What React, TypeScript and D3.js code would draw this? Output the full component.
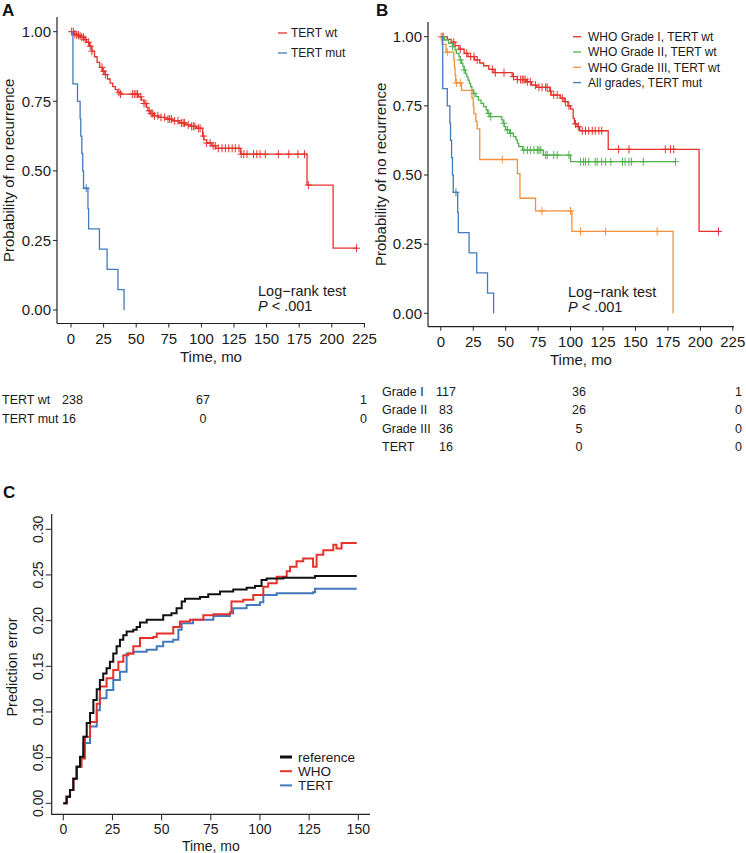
import React from "react";
import * as d3 from "d3";

const FONT = "'Liberation Sans', Arial, Helvetica, sans-serif";

// ---------- Panel A / B data (Kaplan-Meier step levels) ----------
const kmTicks = [0, 25, 50, 75, 100, 125, 150, 175, 200, 225];
const survTicks = [0, 0.25, 0.5, 0.75, 1.0];

const tertWtTimes = [0, 2, 4, 6, 8, 10, 12, 14, 16, 18, 20, 22, 24, 26, 28, 30, 32, 34, 36, 38, 52, 54, 56, 58, 59, 61, 63, 67, 72, 78, 83, 88, 92, 96, 101, 102, 104, 108, 111, 130, 181, 201];
const tertWtSurv = [1, 0.992, 0.988, 0.984, 0.98, 0.972, 0.962, 0.948, 0.93, 0.91, 0.89, 0.872, 0.858, 0.846, 0.83, 0.815, 0.803, 0.792, 0.782, 0.776, 0.766, 0.754, 0.742, 0.728, 0.716, 0.706, 0.698, 0.692, 0.686, 0.68, 0.672, 0.665, 0.66, 0.653, 0.625, 0.611, 0.6, 0.59, 0.581, 0.56, 0.449, 0.222];
const tertWtEnd = 219;
const tertWtCensor = [0.5, 1.8, 3, 4.4, 5.7, 7, 8.3, 9.6, 10.9, 13.5, 14.8, 16, 23.8, 25, 26.4, 36.8, 38, 47, 48.5, 49.8, 51, 53.6, 56, 57.5, 60, 61.4, 62.7, 64, 66.6, 69, 71.8, 74.4, 75.7, 77, 79.5, 82, 84.6, 86, 87, 89.9, 92.5, 93.8, 95, 97.7, 99, 101.5, 104, 106.7, 109, 110.6, 113, 115.8, 118.4, 121, 123.6, 126, 128.8, 130.5, 132.5, 135, 140, 142.5, 145, 149, 159, 167, 174, 179, 182, 219];

const tertMutTimes = [0, 1.5, 5, 7, 7.5, 8.3, 9, 9.6, 13, 13.5, 21.8, 27.7, 36, 40.7];
const tertMutSurv = [1, 0.8125, 0.75, 0.6875, 0.625, 0.5625, 0.5, 0.4375, 0.3646, 0.2917, 0.2188, 0.1458, 0.0729, 0];
const tertMutEnd = 40.7;
const tertMutCensor = [11.7];

const grade1Times = [0, 5, 8, 11, 14, 18, 21, 26, 30, 33, 37, 41, 55, 59, 66, 70, 74, 84, 85, 92, 95, 98, 100, 102, 103, 105, 107, 129, 199];
const grade1Surv = [1, 0.99, 0.98, 0.968, 0.955, 0.94, 0.928, 0.916, 0.905, 0.895, 0.882, 0.87, 0.856, 0.845, 0.837, 0.825, 0.817, 0.803, 0.789, 0.778, 0.765, 0.75, 0.738, 0.705, 0.685, 0.675, 0.66, 0.593, 0.296];
const grade1End = 215;
const grade1Censor = [1, 10, 15, 20, 23, 25.6, 28, 39.7, 42, 48.7, 56, 59, 61.5, 62.8, 64, 65, 66.7, 69, 73, 75.6, 78, 80.8, 82, 84.6, 87, 89.7, 93.6, 96, 98.7, 103.8, 106, 109, 111.5, 114, 116.7, 119, 121.8, 124, 137, 145, 173, 177, 179.5, 214];

const grade2Times = [0, 3, 6, 9, 11, 12, 14, 15, 16, 17, 18, 19, 20, 21, 22, 23, 24, 25, 27, 29, 31, 33, 35, 36, 38, 47, 48, 49, 50, 53, 56, 58, 59, 60, 63, 79, 100];
const grade2Surv = [1, 0.988, 0.976, 0.964, 0.952, 0.94, 0.928, 0.916, 0.904, 0.892, 0.88, 0.867, 0.855, 0.843, 0.831, 0.819, 0.807, 0.795, 0.783, 0.771, 0.759, 0.747, 0.735, 0.723, 0.711, 0.699, 0.687, 0.675, 0.663, 0.651, 0.639, 0.627, 0.615, 0.603, 0.59, 0.572, 0.548];
const grade2End = 181;
const grade2Censor = [2, 9, 15, 18, 25.6, 37, 38.5, 48.7, 51.3, 53.8, 64, 66.7, 69, 71.8, 74.4, 75.6, 77, 80.8, 82, 87, 89.7, 98.7, 107.7, 110, 111.5, 114, 119, 120.5, 124, 127, 131, 140, 142, 145, 147, 156, 180.8];

const grade3Times = [0, 1, 4, 10, 10.5, 11, 11.5, 16, 24, 25, 25.5, 27, 28, 30, 59, 61, 73, 101, 179];
const grade3Surv = [1, 0.972, 0.944, 0.917, 0.889, 0.861, 0.833, 0.806, 0.778, 0.75, 0.722, 0.694, 0.667, 0.556, 0.505, 0.416, 0.37, 0.296, 0];
const grade3End = 179;
const grade3Censor = [0.3, 5, 12, 15, 47.4, 78, 100, 107.7, 127, 166.7];

// ---------- Risk tables ----------
const riskA_labels = ["TERT wt", "TERT mut"];
const riskA_n0 = ["238", "16"];
const riskA_n100 = ["67", "0"];
const riskA_n200 = ["1", "0"];
const riskB_labels = ["Grade I", "Grade II", "Grade III", "TERT"];
const riskB_n0 = ["117", "83", "36", "16"];
const riskB_n100 = ["36", "26", "5", "0"];
const riskB_n200 = ["1", "0", "0", "0"];

// ---------- Panel C data (prediction error curves) ----------
const peTicksX = [0, 25, 50, 75, 100, 125, 150];
const peTicksY = [0, 0.05, 0.1, 0.15, 0.2, 0.25, 0.3];

const refTimes = [0, 1.7, 3.4, 5.1, 6.8, 8.5, 10.2, 11.9, 13.6, 15.3, 17, 18.6, 20.3, 22, 23.7, 25.4, 27.1, 28.8, 30.5, 32.2, 35.6, 37.3, 39, 42.4, 50.8, 55, 57.6, 60.2, 61.9, 69.5, 73.7, 79.7, 86.4, 93.2, 97.5, 100.8, 103.4, 111.9, 128, 149.2];
const refErr = [0, 0.0073, 0.0146, 0.027, 0.04, 0.051, 0.073, 0.088, 0.099, 0.113, 0.125, 0.135, 0.142, 0.148, 0.155, 0.164, 0.172, 0.179, 0.184, 0.188, 0.19, 0.193, 0.198, 0.201, 0.206, 0.208, 0.2135, 0.221, 0.224, 0.226, 0.229, 0.232, 0.234, 0.236, 0.238, 0.2445, 0.246, 0.247, 0.249, 0.249];

const whoTimes = [0, 1.7, 3.4, 5.1, 6.8, 9.3, 11, 13.6, 17, 18.6, 22, 25.4, 28, 30.5, 33, 35.6, 39, 45.8, 47.5, 54.2, 55.9, 59.3, 64.4, 71.2, 76.3, 84.7, 85.5, 91.5, 96.6, 101.7, 104.2, 108.5, 113.6, 115.3, 118.6, 122, 126.3, 127, 128.8, 132.2, 137.3, 138.9, 141.5, 149.2];
const whoErr = [0, 0.0073, 0.0146, 0.027, 0.04, 0.049, 0.073, 0.089, 0.109, 0.128, 0.137, 0.146, 0.155, 0.162, 0.164, 0.172, 0.181, 0.182, 0.186, 0.186, 0.193, 0.199, 0.201, 0.206, 0.207, 0.209, 0.221, 0.223, 0.228, 0.237, 0.241, 0.248, 0.254, 0.259, 0.265, 0.268, 0.268, 0.259, 0.272, 0.277, 0.283, 0.279, 0.285, 0.285];

const tertTimes = [0, 1.7, 3.4, 5.1, 6.8, 8.5, 10.2, 13.6, 17, 18.6, 22, 25.4, 28.8, 32.2, 35.6, 42.4, 47.5, 50.8, 55.9, 58.5, 60.2, 66, 76.3, 84.7, 86.4, 93.2, 100, 101.7, 108.5, 127, 128, 149.2];
const tertErr = [0, 0.0073, 0.0146, 0.027, 0.04, 0.05, 0.066, 0.084, 0.102, 0.115, 0.124, 0.135, 0.144, 0.164, 0.166, 0.168, 0.172, 0.177, 0.179, 0.19, 0.197, 0.201, 0.205, 0.208, 0.2135, 0.217, 0.22, 0.228, 0.23, 0.231, 0.235, 0.235];

const RED = "#E5322B";
const BLUE = "#4479BD";
const GREEN = "#55B050";
const ORANGE = "#F2913C";

type Sc = d3.ScaleLinear<number, number>;

function survAt(times: number[], surv: number[], t: number) {
  let s = surv[0];
  for (let i = 0; i < times.length; i++) if (times[i] <= t) s = surv[i];
  return s;
}

function KMCurve(props: { times: number[]; surv: number[]; end: number; censor: number[]; x: Sc; y: Sc; color: string }) {
  const { times, surv, end, censor, x, y, color } = props;
  const pts: [number, number][] = times.map((t, i) => [t, surv[i]]);
  pts.push([end, surv[surv.length - 1]]);
  const line = d3.line<[number, number]>().x((d) => x(d[0])).y((d) => y(d[1])).curve(d3.curveStepAfter);
  const marks = censor
    .map((t) => {
      const cx = x(t);
      const cy = y(survAt(times, surv, t));
      return `M${cx - 3.5},${cy}H${cx + 3.5}M${cx},${cy - 4}V${cy + 4}`;
    })
    .join("");
  return (
    <g>
      <path d={line(pts) || ""} fill="none" stroke={color} strokeWidth={1.3} />
      <path d={marks} fill="none" stroke={color} strokeWidth={1} />
    </g>
  );
}

function KMAxes(props: { x: Sc; y: Sc; x0: number; x1: number; y0: number; yAxis: number; titleX: number }) {
  const { x, y, x0, x1, y0, yAxis, titleX } = props;
  const cy = (y0 + yAxis) / 2;
  return (
    <g fontFamily={FONT} fill="#1a1a1a">
      <line x1={x0} x2={x1} y1={yAxis} y2={yAxis} stroke="#222" strokeWidth={1.2} />
      <line x1={x0} x2={x0} y1={y0} y2={yAxis} stroke="#222" strokeWidth={1.2} />
      {survTicks.map((v) => (
        <g key={"y" + v}>
          <line x1={x0 - 4} x2={x0} y1={y(v)} y2={y(v)} stroke="#222" strokeWidth={1} />
          <text x={x0 - 6} y={y(v)} dy="0.35em" textAnchor="end" fontSize={15} fill="#1a1a1a">
            {v.toFixed(2)}
          </text>
        </g>
      ))}
      {kmTicks.map((v) => (
        <g key={"x" + v}>
          <line x1={x(v)} x2={x(v)} y1={yAxis} y2={yAxis + 4} stroke="#222" strokeWidth={1} />
          <text x={x(v)} y={yAxis + 20} textAnchor="middle" fontSize={15} fill="#1a1a1a">
            {v}
          </text>
        </g>
      ))}
      <text x={(x0 + x1) / 2} y={yAxis + 38} textAnchor="middle" fontSize={15} fill="#1a1a1a">
        Time, mo
      </text>
      <text transform={`translate(${titleX},${cy}) rotate(-90)`} textAnchor="middle" fontSize={15} fill="#1a1a1a">
        Probability of no recurrence
      </text>
    </g>
  );
}

function LogRank(props: { x: number; y: number }) {
  return (
    <g fontFamily={FONT} fontSize={14.5} fill="#1a1a1a">
      <text x={props.x} y={props.y}>Log−rank test</text>
      <text x={props.x} y={props.y + 15}>
        <tspan fontStyle="italic">P</tspan>
        <tspan> &lt; .001</tspan>
      </text>
    </g>
  );
}

export default function App() {
  // Panel A scales
  const xA = d3.scaleLinear().domain([0, 225]).range([71, 364.4]);
  const yA = d3.scaleLinear().domain([0, 1]).range([310, 31.7]);
  // Panel B scales
  const xB = d3.scaleLinear().domain([0, 225]).range([440.8, 732.8]);
  const yB = d3.scaleLinear().domain([0, 1]).range([313.3, 36.7]);
  // Panel C scales
  const xC = d3.scaleLinear().domain([0, 150]).range([63.3, 358.3]);
  const yC = d3.scaleLinear().domain([0, 0.3]).range([803.3, 529.3]);

  const peLine = (times: number[], vals: number[]) =>
    d3
      .line<number>()
      .x((_, i) => xC(times[i]))
      .y((d) => yC(d))
      .curve(d3.curveStepAfter)(vals) || "";

  const legendA = [
    { label: "TERT wt", color: RED },
    { label: "TERT mut", color: BLUE },
  ];
  const legendB = [
    { label: "WHO Grade I, TERT wt", color: RED },
    { label: "WHO Grade II, TERT wt", color: GREEN },
    { label: "WHO Grade III, TERT wt", color: ORANGE },
    { label: "All grades, TERT mut", color: BLUE },
  ];
  const legendC = [
    { label: "reference", color: "#111", w: 3 },
    { label: "WHO", color: RED, w: 2 },
    { label: "TERT", color: BLUE, w: 2 },
  ];

  const rowsA = [403.5, 423];
  const rowsB = [395.5, 414, 432.5, 451];

  return (
    <svg
      width={746}
      height={853}
      style={{ position: "fixed", left: 0, top: 0, background: "#fff" }}
      fontFamily={FONT}
    >
      <rect width={746} height={853} fill="#fff" />
      {/* Panel labels */}
      <text x={2} y={16} fontSize={17} fontWeight="bold" fill="#111">A</text>
      <text x={376} y={16} fontSize={17} fontWeight="bold" fill="#111">B</text>
      <text x={3} y={498} fontSize={17} fontWeight="bold" fill="#111">C</text>

      {/* Panel A */}
      <KMAxes x={xA} y={yA} x0={57} x1={365} y0={17} yAxis={323.5} titleX={14} />
      <KMCurve times={tertWtTimes} surv={tertWtSurv} end={tertWtEnd} censor={tertWtCensor} x={xA} y={yA} color={RED} />
      <KMCurve times={tertMutTimes} surv={tertMutSurv} end={tertMutEnd} censor={tertMutCensor} x={xA} y={yA} color={BLUE} />
      {legendA.map((l, i) => (
        <g key={l.label}>
          <line x1={278} x2={287} y1={33 + i * 20} y2={33 + i * 20} stroke={l.color} strokeWidth={1.3} />
          <text x={291} y={33 + i * 20} dy="0.35em" fontSize={12} fill="#1a1a1a">{l.label}</text>
        </g>
      ))}
      <LogRank x={258} y={296} />

      {/* Panel B */}
      <KMAxes x={xB} y={yB} x0={428} x1={734} y0={22} yAxis={326.7} titleX={386} />
      <KMCurve times={grade1Times} surv={grade1Surv} end={grade1End} censor={grade1Censor} x={xB} y={yB} color={RED} />
      <KMCurve times={grade2Times} surv={grade2Surv} end={grade2End} censor={grade2Censor} x={xB} y={yB} color={GREEN} />
      <KMCurve times={grade3Times} surv={grade3Surv} end={grade3End} censor={grade3Censor} x={xB} y={yB} color={ORANGE} />
      <KMCurve times={tertMutTimes} surv={tertMutSurv} end={tertMutEnd} censor={tertMutCensor} x={xB} y={yB} color={BLUE} />
      {legendB.map((l, i) => (
        <g key={l.label}>
          <line x1={573} x2={581} y1={36.7 + i * 15.3} y2={36.7 + i * 15.3} stroke={l.color} strokeWidth={1.3} />
          <text x={588} y={36.7 + i * 15.3} dy="0.35em" fontSize={12} fill="#1a1a1a">{l.label}</text>
        </g>
      ))}
      <LogRank x={568} y={296.5} />

      {/* Risk tables */}
      <g fontSize={12.5} fill="#1a1a1a">
        {riskA_labels.map((lab, i) => (
          <g key={lab}>
            <text x={2} y={rowsA[i]}>{lab}</text>
            <text x={62} y={rowsA[i]}>{riskA_n0[i]}</text>
            <text x={203} y={rowsA[i]} textAnchor="middle">{riskA_n100[i]}</text>
            <text x={367} y={rowsA[i]} textAnchor="end">{riskA_n200[i]}</text>
          </g>
        ))}
        {riskB_labels.map((lab, i) => (
          <g key={lab}>
            <text x={382} y={rowsB[i]}>{lab}</text>
            <text x={446} y={rowsB[i]} textAnchor="middle">{riskB_n0[i]}</text>
            <text x={579} y={rowsB[i]} textAnchor="middle">{riskB_n100[i]}</text>
            <text x={742} y={rowsB[i]} textAnchor="end">{riskB_n200[i]}</text>
          </g>
        ))}
      </g>

      {/* Panel C */}
      <g>
        <path d={`M51.7,514V814.3H370`} fill="none" stroke="#222" strokeWidth={1.2} />
        {peTicksY.map((v) => (
          <g key={"cy" + v}>
            <line x1={45.7} x2={51.7} y1={yC(v)} y2={yC(v)} stroke="#222" strokeWidth={1} />
            <text
              transform={`translate(38,${yC(v)}) rotate(-90)`}
              textAnchor="middle"
              dy="0.35em"
              fontSize={14}
              fill="#1a1a1a"
            >
              {v.toFixed(2)}
            </text>
          </g>
        ))}
        {peTicksX.map((v) => (
          <g key={"cx" + v}>
            <line x1={xC(v)} x2={xC(v)} y1={814.3} y2={820.3} stroke="#222" strokeWidth={1} />
            <text x={xC(v)} y={834} textAnchor="middle" fontSize={14} fill="#1a1a1a">{v}</text>
          </g>
        ))}
        <text x={(51.7 + 370) / 2} y={850.5} textAnchor="middle" fontSize={14} fill="#1a1a1a">Time, mo</text>
        <text transform={`translate(12,667) rotate(-90)`} textAnchor="middle" dy="0.35em" fontSize={14.5} fill="#1a1a1a">
          Prediction error
        </text>
        <path d={peLine(tertTimes, tertErr)} fill="none" stroke={BLUE} strokeWidth={2} />
        <path d={peLine(whoTimes, whoErr)} fill="none" stroke={RED} strokeWidth={2} />
        <path d={peLine(refTimes, refErr)} fill="none" stroke="#111" strokeWidth={2} />
        {legendC.map((l, i) => (
          <g key={l.label}>
            <line x1={280} x2={292} y1={757 + i * 14.2} y2={757 + i * 14.2} stroke={l.color} strokeWidth={l.w} />
            <text x={298} y={757 + i * 14.2} dy="0.35em" fontSize={13.5} fill="#1a1a1a">{l.label}</text>
          </g>
        ))}
      </g>
    </svg>
  );
}
